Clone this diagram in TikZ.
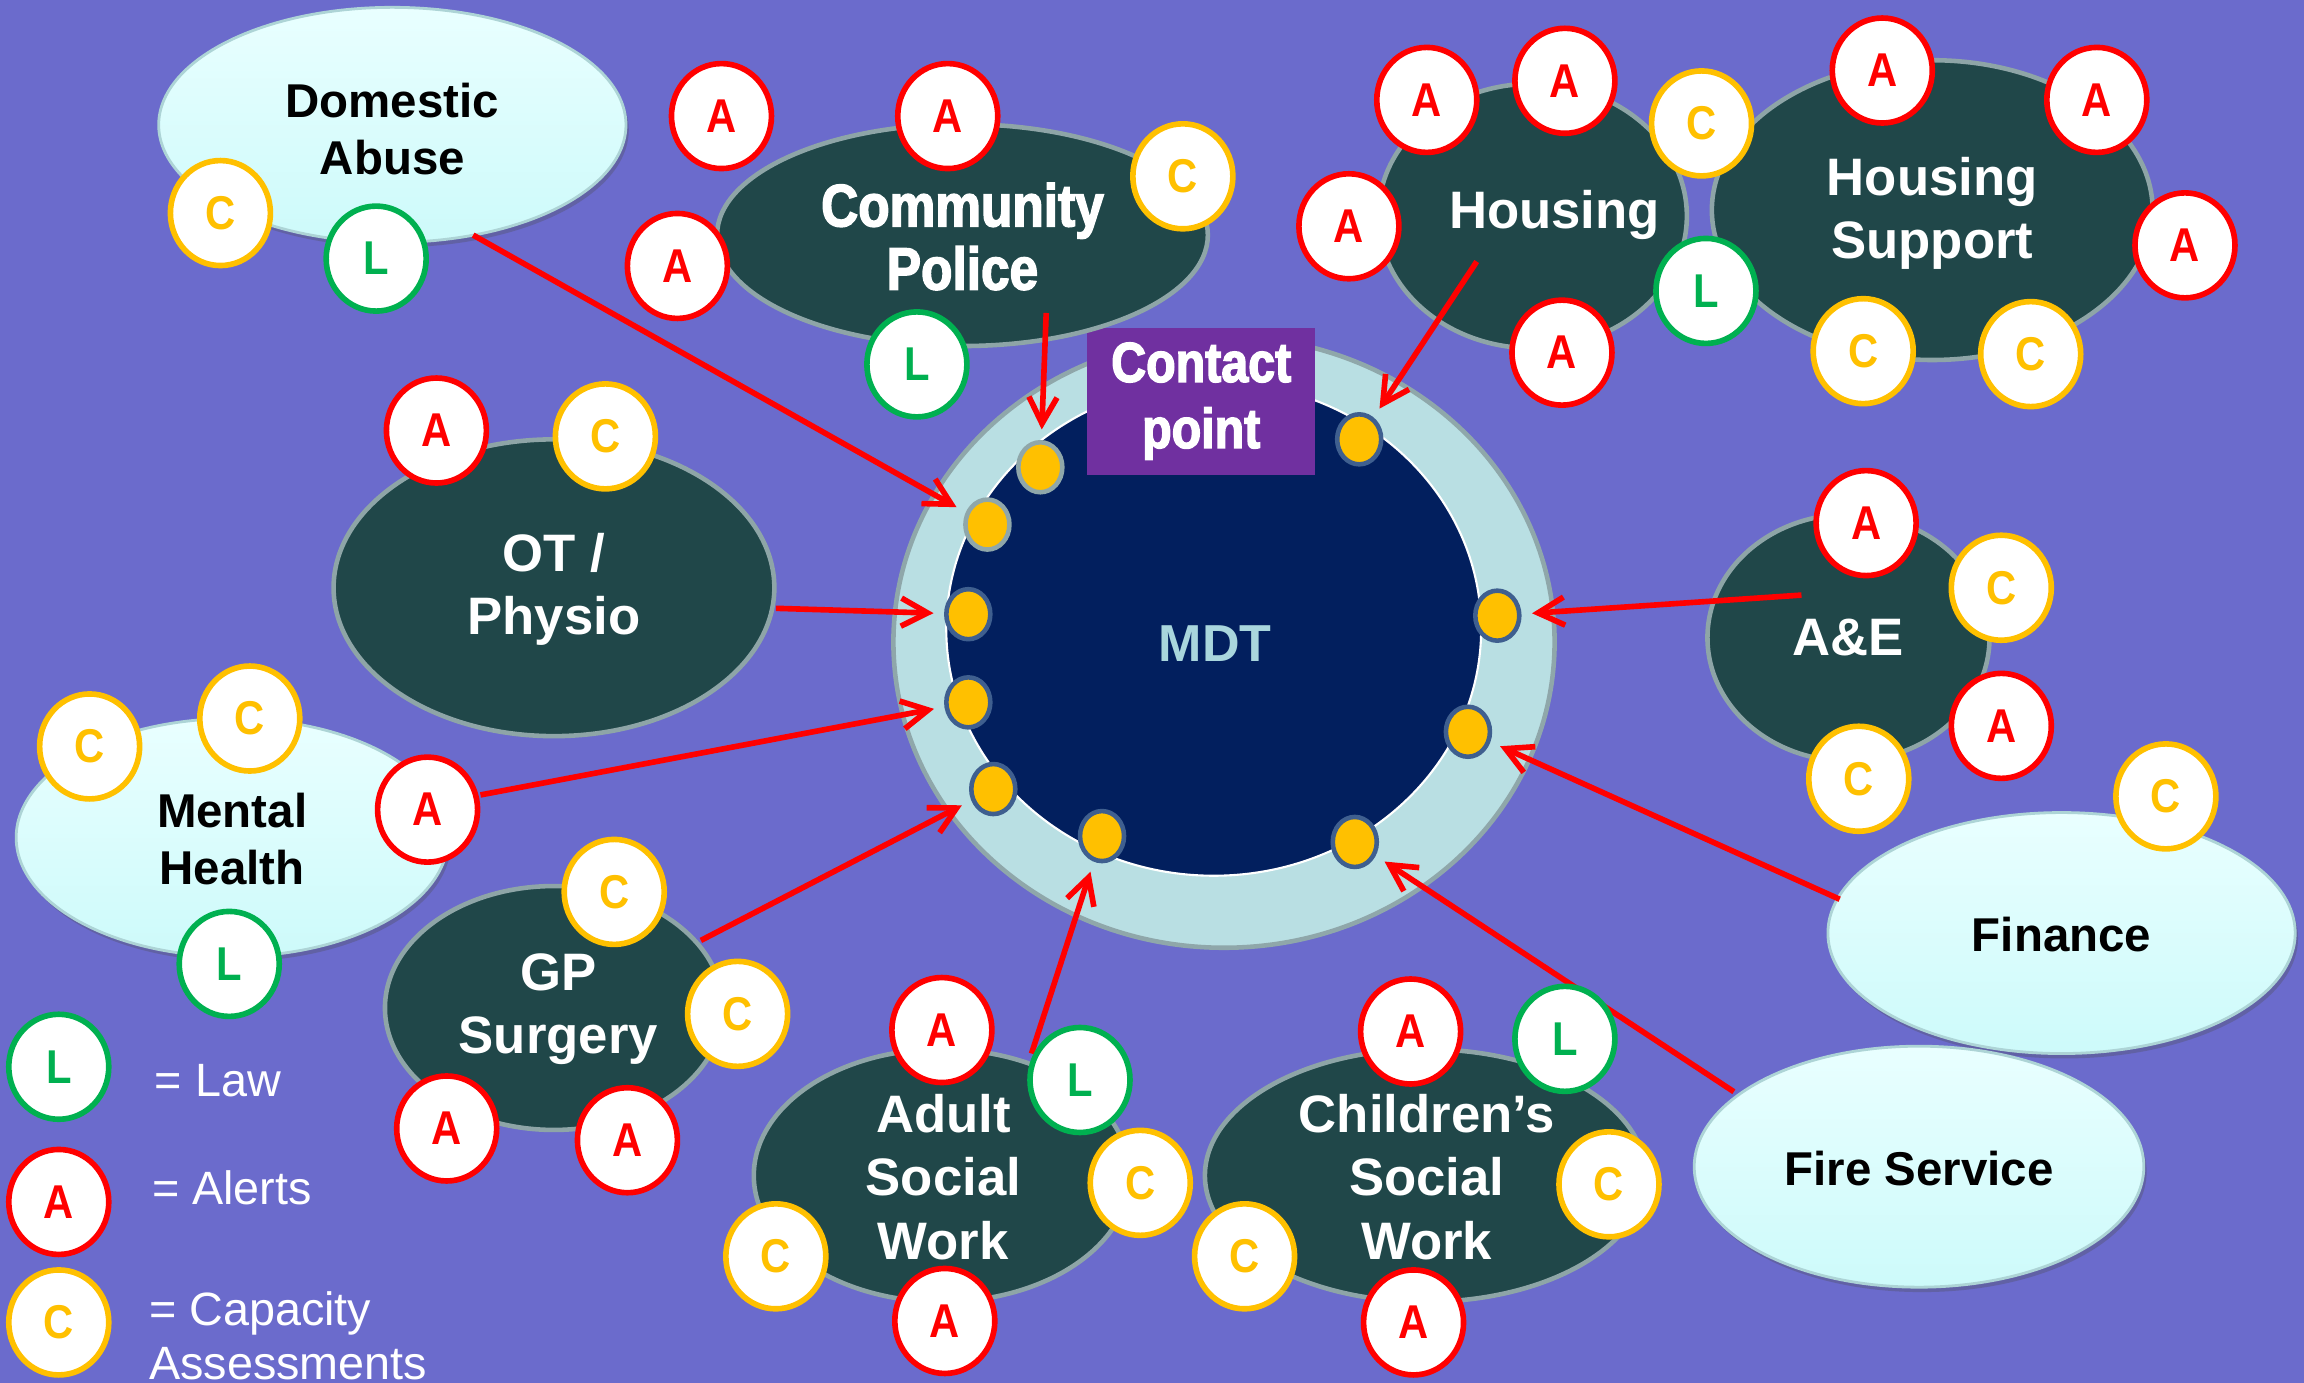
\documentclass[tikz,border=0pt]{standalone}
\usepackage{fontspec}
\setmainfont{Liberation Sans}
\newfontfamily\nbfont[FakeStretch=0.88]{Liberation Sans}
\newfontfamily\cpfont[FakeStretch=0.86,FakeBold=2.5]{Liberation Sans}
\usetikzlibrary{shapes.geometric,arrows.meta,shadows}
\definecolor{bgc}{HTML}{6B6BCC}
\definecolor{ringc}{HTML}{B9DFE3}
\definecolor{ringb}{HTML}{8FA7AA}
\definecolor{innerc}{HTML}{021F5E}
\definecolor{purc}{HTML}{7030A0}
\definecolor{dotc}{HTML}{FFC000}
\definecolor{dotb}{HTML}{3F5F8F}
\definecolor{darkc}{HTML}{204749}
\definecolor{darkb}{HTML}{8EA5A7}
\definecolor{ltone}{HTML}{E9FFFF}
\definecolor{lttwo}{HTML}{CDFAFA}
\definecolor{ltb}{HTML}{ADD4D6}
\definecolor{redc}{HTML}{FF0000}
\definecolor{orc}{HTML}{FFC000}
\definecolor{grc}{HTML}{00B050}
\definecolor{mdtc}{HTML}{A9D6DD}
\tikzset{
  badge/.style={ellipse, fill=white, line width=1.6pt, minimum width=1.00cm, minimum height=1.05cm, inner sep=0pt,
    font=\nbfont\bfseries\fontsize{13.5pt}{14pt}\selectfont},
  bA/.style={badge, draw=redc, text=redc},
  bC/.style={badge, draw=orc, text=orc},
  bL/.style={badge, draw=grc, text=grc},
  cdot/.style={ellipse, fill=dotc, draw=dotb, line width=1.3pt, minimum width=0.44cm, minimum height=0.50cm, inner sep=0pt},
  darkell/.style={ellipse, fill=darkc, draw=darkb, line width=1.3pt, inner sep=0pt},
  lightell/.style={ellipse, top color=ltone, bottom color=lttwo, draw=ltb, line width=0.8pt, inner sep=0pt,
    drop shadow={shadow xshift=0.8pt, shadow yshift=-1.4pt, opacity=0.3, fill=black!70}},
  darktxt/.style={text=white, align=center, inner sep=0pt, font=\bfseries\fontsize{15pt}{18pt}\selectfont},
  lighttxt/.style={text=black, align=center, inner sep=0pt, font=\bfseries\fontsize{13.5pt}{16.3pt}\selectfont},
  arr/.style={draw=redc, line width=1.6pt, -{Straight Barb[length=7.5pt,width=8pt]}, shorten >=3pt},
  legtxt/.style={text=white, align=left, inner sep=0pt, font=\fontsize{13.3pt}{15.5pt}\selectfont}
}
\begin{document}
\begin{tikzpicture}[x=0.014694cm, y=-0.014694cm]
\fill[bgc] (0,0) rectangle (1568,941);
\useasboundingbox (0,0) rectangle (1568,941);
% MDT ring
\node[ellipse, fill=ringc, draw=ringb, line width=1.3pt, minimum width=6.612cm, minimum height=6.113cm] (ring) at (833,437) {};
\node[ellipse, fill=innerc, draw=white, line width=0.6pt, minimum width=5.349cm, minimum height=4.937cm] (inner) at (826,428) {};
\node[text=mdtc, inner sep=0pt, font=\bfseries\fontsize{14.8pt}{16pt}\selectfont] (mdt) at (827,438) {MDT};
\node[fill=purc, text=white, align=center, minimum width=2.278cm, minimum height=1.469cm, inner sep=0pt,
  font=\cpfont\bfseries\fontsize{16pt}{18.8pt}\selectfont] (contact) at (817.5,273) {Contact\\point};
% contact dots
\node[cdot, draw=ringb] (d1) at (708,318) {};
\node[cdot, draw=ringb] (d2) at (672,357) {};
\node[cdot] (d3) at (659,418) {};
\node[cdot] (d4) at (659,478) {};
\node[cdot] (d5) at (676,537) {};
\node[cdot] (d6) at (750,569) {};
\node[cdot] (d7) at (922,573) {};
\node[cdot] (d8) at (999,498) {};
\node[cdot] (d9) at (1019,419) {};
\node[cdot] (d10) at (925,299) {};
% dark ellipses
\node[darkell, minimum width=4.908cm, minimum height=2.219cm] (cp) at (655,160) {};
\node[darkell, minimum width=3.086cm, minimum height=2.645cm] (ho) at (1043,147) {};
\node[darkell, minimum width=4.408cm, minimum height=2.998cm] (hs) at (1315,143) {};
\node[darkell, minimum width=4.408cm, minimum height=2.968cm] (ot) at (377,400) {};
\node[darkell, minimum width=2.821cm, minimum height=2.469cm] (ae) at (1258,434) {};
\node[darkell, minimum width=3.380cm, minimum height=2.439cm] (gp) at (377,686) {};
\node[darkell, minimum width=3.762cm, minimum height=2.527cm] (as) at (641,800) {};
\node[darkell, minimum width=4.408cm, minimum height=2.527cm] (cs) at (970,800) {};
% light ellipses
\node[lightell, minimum width=4.673cm, minimum height=2.351cm] (da) at (267,85) {};
\node[lightell, minimum width=4.320cm, minimum height=2.380cm] (mh) at (158,570) {};
\node[lightell, minimum width=4.673cm, minimum height=2.410cm] (fi) at (1403,635) {};
\node[lightell, minimum width=4.496cm, minimum height=2.410cm] (fs) at (1306,794) {};
% texts
\node[darktxt, font=\cpfont\bfseries\fontsize{17pt}{18pt}\selectfont] (cpT) at (655,161) {Community\\Police};
\node[darktxt] (hoT) at (1058,146) {Housing};
\node[darktxt] (hsT) at (1315,145) {Housing\\Support};
\node[darktxt] (otT) at (377,401) {OT /\\Physio};
\node[darktxt] (aeT) at (1258,434) {A\&E};
\node[darktxt] (gpT) at (380,687) {GP\\Surgery};
\node[darktxt] (asT) at (642,801) {Adult\\Social\\Work};
\node[darktxt] (csT) at (971,801) {Children’s\\Social\\Work};
\node[lighttxt] (daT) at (267,88) {Domestic\\Abuse};
\node[lighttxt] (mhT) at (158,571) {Mental\\Health};
\node[lighttxt] (fiT) at (1403,636) {Finance};
\node[lighttxt] (fsT) at (1306,795) {Fire Service};
% arrow start points
\coordinate (daS) at (322,160);
\coordinate (cpS) at (712,213);
\coordinate (hoS) at (1005,178);
\coordinate (aeS) at (1226,405);
\coordinate (fiS) at (1252,612);
\coordinate (fsS) at (1180,743);
\coordinate (asS) at (702,717);
\coordinate (gpS) at (477,640);
\coordinate (mhS) at (327,541);
\coordinate (otS) at (528,414);
\draw[arr] (daS) -- (d2);
\draw[arr] (cpS) -- (d1);
\draw[arr] (hoS) -- (d10);
\draw[arr] (aeS) -- (d9);
\draw[arr] (fiS) -- (d8);
\draw[arr] (fsS) -- (d7);
\draw[arr] (asS) -- (d6);
\draw[arr] (gpS) -- (d5);
\draw[arr] (mhS) -- (d4);
\draw[arr] (otS) -- (d3);
% badges
\node[bC] (daC) at (150,145) {C};
\node[bL] (daL) at (256,176) {L};
\node[bA] (cpA1) at (491,79) {A};
\node[bA] (cpA2) at (645,79) {A};
\node[bA] (cpA3) at (461,181) {A};
\node[bC] (cpC) at (805,120) {C};
\node[bL] (cpL) at (624,248) {L};
\node[bA] (hoA1) at (971,68) {A};
\node[bA] (hoA2) at (1065,55) {A};
\node[bC] (hoC) at (1158,84) {C};
\node[bA] (hoA3) at (918,154) {A};
\node[bL] (hoL) at (1161,198) {L};
\node[bA] (hoA4) at (1063,240) {A};
\node[bA] (hsA1) at (1281,48) {A};
\node[bA] (hsA2) at (1427,68) {A};
\node[bA] (hsA3) at (1487,167) {A};
\node[bC] (hsC1) at (1268,239) {C};
\node[bC] (hsC2) at (1382,241) {C};
\node[bA] (otA) at (297,293) {A};
\node[bC] (otC) at (412,297) {C};
\node[bA] (aeA1) at (1270,356) {A};
\node[bC] (aeC1) at (1362,400) {C};
\node[bA] (aeA2) at (1362,494) {A};
\node[bC] (aeC2) at (1265,530) {C};
\node[bC] (fiC) at (1474,542) {C};
\node[bC] (mhC1) at (61,508) {C};
\node[bC] (mhC2) at (170,489) {C};
\node[bA] (mhA) at (291,551) {A};
\node[bL] (mhL) at (156,656) {L};
\node[bC] (gpC1) at (418,607) {C};
\node[bC] (gpC2) at (502,690) {C};
\node[bA] (gpA1) at (304,768) {A};
\node[bA] (gpA2) at (427,776) {A};
\node[bA] (asA1) at (641,701) {A};
\node[bL] (asL) at (735,735) {L};
\node[bC] (asC1) at (776,805) {C};
\node[bC] (asC2) at (528,855) {C};
\node[bA] (asA2) at (643,899) {A};
\node[bA] (csA1) at (960,702) {A};
\node[bL] (csL) at (1065,707) {L};
\node[bC] (csC1) at (1095,806) {C};
\node[bC] (csC2) at (847,855) {C};
\node[bA] (csA2) at (962,900) {A};
% legend
\node[bL] (lgL) at (40,726) {L};
\node[bA] (lgA) at (40,818) {A};
\node[bC] (lgC) at (40,900) {C};
\node[legtxt, anchor=base west] (lgLT) at (105,746) {= Law};
\node[legtxt, anchor=base west] (lgAT) at (103,820) {= Alerts};
\node[legtxt, anchor=base west] (lgCT) at (101,939) {= Capacity\\Assessments};
\end{tikzpicture}
\end{document}
